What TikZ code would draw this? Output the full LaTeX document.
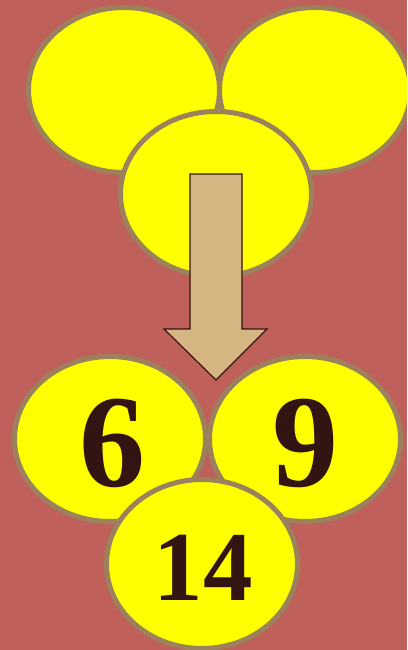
\documentclass[tikz,border=0pt]{standalone}
\usepackage{fontspec}
\setmainfont{Liberation Serif}
\usetikzlibrary{shapes.geometric, positioning}

\definecolor{bgred}{RGB}{192,96,90}
\definecolor{rimbrown}{RGB}{155,130,92}
\definecolor{arrowtan}{RGB}{213,181,130}
\definecolor{inkbrown}{RGB}{50,20,18}
\definecolor{ballyellow}{RGB}{255,255,0}

\tikzset{
  ball/.style={ellipse, draw=rimbrown, fill=ballyellow, line width=5pt,
    inner sep=0pt, minimum width=191pt, minimum height=165pt},
  digit/.style={inner sep=0pt, text=inkbrown,
    font=\fontsize{132}{132}\selectfont\bfseries},
  bigarrow/.style={fill=arrowtan, draw=inkbrown, line width=1.2pt, line join=miter},
}

\begin{document}
\begin{tikzpicture}[x=1pt, y=-1pt]
  \fill[bgred] (0,0) rectangle (407,650);
  \useasboundingbox (0,0) rectangle (407,650);
  \clip (0,0) rectangle (407,650);

  % top group
  \node[ball] (corner) at (-92,-78) {};
  \node[ball] (topleft) at (124,90) {};
  \node[ball] (topright) at (315,90) {};
  \node[ball] (topmid) at (216,194) {};

  % arrow
  \draw[bigarrow] (190,174) -- (242,174) -- (242,329) -- (267,329)
    -- (216,380) -- (164,329) -- (190,329) -- cycle;

  % bottom group
  \node[ball] (six) at (110,439) {};
  \node[ball] (nine) at (305,439) {};
  \node[ball, minimum height=169pt] (fourteen) at (202,564) {};
  \node[digit] at ([shift={(2,4)}]six.center) {6};
  \node[digit] at ([shift={(0,4)}]nine.center) {9};
  \node[digit, font=\fontsize{99}{99}\selectfont\bfseries]
    at ([shift={(1,4)}]fourteen.center) {14};
\end{tikzpicture}
\end{document}
